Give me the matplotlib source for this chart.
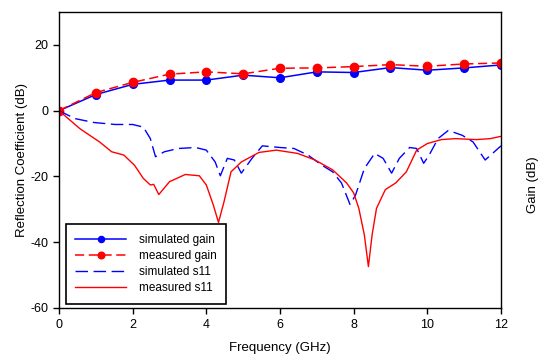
import numpy as np
import matplotlib.pyplot as plt

plt.rcParams['font.family'] = ['Liberation Sans', 'DejaVu Sans']
plt.rcParams['axes.unicode_minus'] = False

# gain points (GHz, dB)
gain_freq = [0, 1, 2, 3, 4, 5, 6, 7, 8, 9, 10, 11, 12]
sim_gain = [0, 4.9, 8.0, 9.3, 9.3, 10.8, 10.0, 11.8, 11.6, 13.1, 12.3, 13.0, 13.9]
meas_gain = [0, 5.5, 8.6, 11.1, 11.8, 11.2, 12.9, 13.0, 13.4, 14.0, 13.5, 14.2, 14.5]

# simulated s11
sim_f = [0, 0.43, 0.95, 1.52, 2.0, 2.29, 2.48, 2.62, 2.86, 3.24, 3.71, 4.0, 4.24, 4.38,
         4.57, 4.76, 4.95, 5.24, 5.52, 6.0, 6.38, 6.76, 7.14, 7.43, 7.67, 7.9, 8.05,
         8.29, 8.57, 8.8, 9.03, 9.24, 9.52, 9.71, 9.9, 10.05, 10.29, 10.57, 10.95,
         11.24, 11.57, 12.0]
sim_s11 = [0, -2.4, -3.6, -4.2, -4.2, -5.0, -8.5, -14.0, -12.5, -11.5, -11.2, -12.0,
           -15.6, -19.8, -14.5, -15.0, -19.0, -14.5, -10.7, -11.2, -11.5, -13.5, -16.6,
           -18.6, -22.0, -28.5, -25.7, -17.6, -13.0, -14.5, -19.0, -14.5, -11.2, -11.5,
           -16.0, -13.5, -8.5, -6.0, -7.5, -9.5, -15.0, -10.7]

# measured s11
meas_f = [0, 0.57, 1.1, 1.43, 1.76, 2.05, 2.29, 2.48, 2.57, 2.71, 3.0, 3.43, 3.81, 4.0,
          4.19, 4.33, 4.48, 4.67, 4.95, 5.43, 5.9, 6.48, 6.95, 7.43, 7.81, 8.0, 8.14,
          8.29, 8.4, 8.5, 8.62, 8.86, 9.14, 9.43, 9.71, 10.0, 10.38, 10.76, 11.33,
          11.71, 12.0]
meas_s11 = [0, -5.5, -9.5, -12.5, -13.5, -16.6, -20.6, -22.6, -22.4, -25.5, -21.6,
            -19.4, -19.8, -22.6, -28.7, -34.0, -27.7, -18.6, -15.6, -12.7, -12.0, -13.0,
            -15.0, -18.0, -22.0, -25.0, -29.7, -37.8, -47.4, -37.8, -29.7, -24.0, -22.0,
            -18.6, -12.0, -10.0, -8.8, -8.5, -8.8, -8.5, -7.8]

fig = plt.figure(figsize=(5.5, 3.62), dpi=100)
ax = fig.add_axes([59/550, 1-308/362, 442/550, 296/362])

ax.plot(gain_freq, sim_gain, color='#0000ff', lw=1.1, marker='o', ms=5.5,
        label='simulated gain')
ax.plot(gain_freq, meas_gain, color='#ff0000', lw=1.1, ls=(0, (6, 3)), marker='o',
        ms=6, label='measured gain')
ax.plot(sim_f, sim_s11, color='#0000ff', lw=1.0, ls=(0, (9, 4)), label='simulated s11')
ax.plot(meas_f, meas_s11, color='#ff0000', lw=1.0, label='measured s11')

ax.set_xlim(0, 12)
ax.set_ylim(-60, 30)
ax.set_xticks(np.arange(0, 13, 2))
ax.set_yticks(np.arange(-60, 21, 20))
ax.tick_params(direction='out', length=4, width=1, labelsize=9, color='black')
ax.tick_params(axis='x', pad=4)
for s in ax.spines.values():
    s.set_linewidth(1.0)

ax.set_xlabel('Frequency (GHz)', fontsize=9.5, labelpad=8)
ax.set_ylabel('Reflection Coefficient (dB)', fontsize=9.5, labelpad=2)
fig.text(533/550, 1-185/362, 'Gain (dB)', rotation=90, fontsize=9.5,
         ha='center', va='center')

leg = ax.legend(loc='lower left', bbox_to_anchor=(7/442, 0.015), fontsize=8.5,
                frameon=True, fancybox=False, edgecolor='black', framealpha=1,
                handlelength=4.3, handletextpad=1.1, borderpad=0.8, labelspacing=0.35,
                borderaxespad=0, numpoints=1, markerscale=0.8)
leg.get_frame().set_linewidth(1.2)

fig.savefig('out.png', dpi=100)
